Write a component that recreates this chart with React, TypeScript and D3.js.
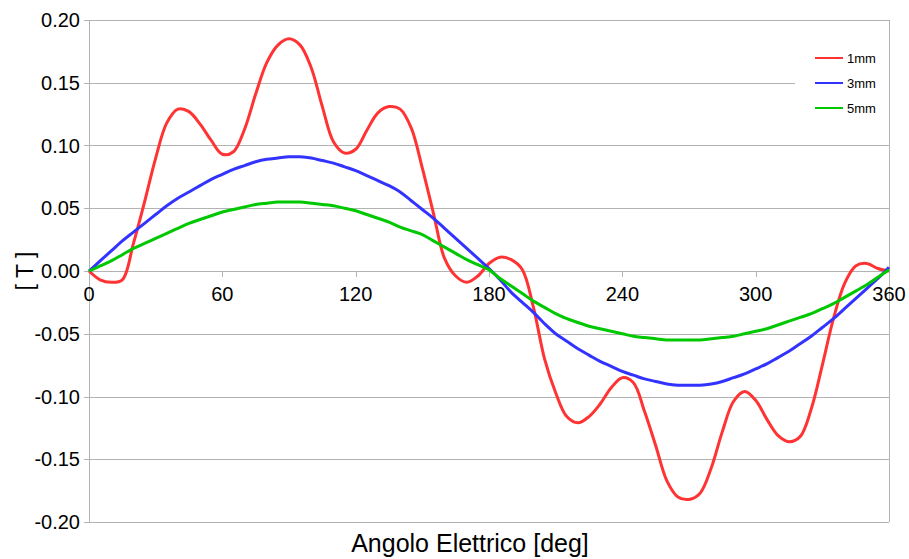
import React, { useEffect, useRef } from 'react';
import * as d3 from 'd3';

// electrical angle, degrees (5 deg step)
const angles = d3.range(0, 361, 5);

// flux density [T], one value per angle
const b1mm = [
  0.000, -0.007, -0.009, -0.007, 0.022, 0.055, 0.090, 0.118, 0.129, 0.127,
  0.117, 0.104, 0.093, 0.095, 0.113, 0.141, 0.166, 0.180, 0.185, 0.180,
  0.162, 0.131, 0.103, 0.094, 0.097, 0.112, 0.126, 0.131, 0.129, 0.114,
  0.082, 0.046, 0.010, -0.004, -0.009, -0.004, 0.006, 0.011, 0.009, 0.001,
  -0.029, -0.070, -0.097, -0.116, -0.121, -0.116, -0.106, -0.093, -0.085, -0.089,
  -0.112, -0.139, -0.167, -0.180, -0.182, -0.177, -0.157, -0.128, -0.104, -0.096,
  -0.103, -0.118, -0.131, -0.136, -0.132, -0.110, -0.075, -0.038, -0.010, 0.004,
  0.006, 0.002, 0.000,
];

const b3mm = [
  0.000, 0.008, 0.016, 0.024, 0.031, 0.038, 0.045, 0.052, 0.058, 0.063,
  0.068, 0.073, 0.077, 0.081, 0.084, 0.087, 0.089, 0.090, 0.091, 0.091,
  0.090, 0.088, 0.086, 0.083, 0.080, 0.076, 0.072, 0.068, 0.063, 0.056,
  0.049, 0.042, 0.034, 0.026, 0.018, 0.010, 0.002, -0.007, -0.017, -0.025,
  -0.033, -0.042, -0.050, -0.056, -0.062, -0.067, -0.072, -0.076, -0.080, -0.083,
  -0.086, -0.088, -0.090, -0.091, -0.091, -0.091, -0.090, -0.088, -0.085, -0.082,
  -0.078, -0.074, -0.069, -0.064, -0.058, -0.052, -0.045, -0.038, -0.030, -0.022,
  -0.014, -0.006, 0.003,
];

const b5mm = [
  0.000, 0.004, 0.008, 0.013, 0.018, 0.022, 0.026, 0.030, 0.034, 0.038,
  0.041, 0.044, 0.047, 0.049, 0.051, 0.053, 0.054, 0.055, 0.055, 0.055,
  0.054, 0.053, 0.052, 0.050, 0.048, 0.045, 0.042, 0.039, 0.035, 0.032,
  0.029, 0.024, 0.019, 0.014, 0.009, 0.005, 0.001, -0.006, -0.012, -0.018,
  -0.024, -0.029, -0.034, -0.038, -0.041, -0.044, -0.046, -0.048, -0.050, -0.052,
  -0.053, -0.054, -0.055, -0.055, -0.055, -0.055, -0.054, -0.053, -0.052, -0.050,
  -0.048, -0.046, -0.043, -0.040, -0.037, -0.034, -0.030, -0.026, -0.021, -0.016,
  -0.011, -0.005, 0.001,
];

const seriesNames = ['1mm', '3mm', '5mm'];
const seriesColors = ['#ff3333', '#3333ff', '#00c800'];
const seriesValues = [b1mm, b3mm, b5mm];

const xTicks = [0, 60, 120, 180, 240, 300, 360];
const yTicks = [-0.2, -0.15, -0.1, -0.05, 0, 0.05, 0.1, 0.15, 0.2];

const App = () => {
  const svgRef = useRef(null);
  const width = 909;
  const height = 559;

  useEffect(() => {
    const svg = d3.select(svgRef.current);
    svg.selectAll('*').remove();

    const margin = { top: 20, right: 20, bottom: 37, left: 89 };
    const font = '"Liberation Sans", Arial, sans-serif';

    const x = d3.scaleLinear()
      .domain([0, 360])
      .range([margin.left, width - margin.right]);

    const y = d3.scaleLinear()
      .domain([-0.2, 0.2])
      .range([height - margin.bottom, margin.top]);

    // plain hyphen for the minus sign, like the original
    const fmtY = d => d3.format('.2f')(d).replace('\u2212', '-');

    // horizontal grid lines
    svg.append('g')
      .selectAll('line')
      .data(yTicks)
      .enter()
      .append('line')
      .attr('x1', x(0) - 5)
      .attr('x2', x(360))
      .attr('y1', d => Math.round(y(d)) + 0.5)
      .attr('y2', d => Math.round(y(d)) + 0.5)
      .attr('stroke', '#b3b3b3')
      .attr('stroke-width', 1);

    // left axis and right border
    [0, 360].forEach(v => {
      svg.append('line')
        .attr('x1', Math.round(x(v)) + 0.5)
        .attr('x2', Math.round(x(v)) + 0.5)
        .attr('y1', y(0.2))
        .attr('y2', y(-0.2))
        .attr('stroke', '#b3b3b3');
    });

    // x ticks sit on the zero line
    svg.append('g')
      .selectAll('line')
      .data(xTicks)
      .enter()
      .append('line')
      .attr('x1', d => Math.round(x(d)) + 0.5)
      .attr('x2', d => Math.round(x(d)) + 0.5)
      .attr('y1', y(0))
      .attr('y2', y(0) + 6)
      .attr('stroke', '#b3b3b3');

    // y tick labels
    svg.append('g')
      .selectAll('text')
      .data(yTicks)
      .enter()
      .append('text')
      .attr('x', 80)
      .attr('y', d => y(d) + 7)
      .attr('text-anchor', 'end')
      .attr('font-family', font)
      .attr('font-size', '20px')
      .attr('fill', '#000')
      .text(fmtY);

    // x tick labels
    svg.append('g')
      .selectAll('text')
      .data(xTicks)
      .enter()
      .append('text')
      .attr('x', d => x(d))
      .attr('y', y(0) + 30)
      .attr('text-anchor', 'middle')
      .attr('font-family', font)
      .attr('font-size', '20px')
      .attr('fill', '#000')
      .text(d => d);

    // axis titles
    svg.append('text')
      .attr('x', 470)
      .attr('y', 552)
      .attr('text-anchor', 'middle')
      .attr('font-family', font)
      .attr('font-size', '25px')
      .text('Angolo Elettrico [deg]');

    svg.append('text')
      .attr('transform', `translate(33,${y(0)}) rotate(-90)`)
      .attr('text-anchor', 'middle')
      .attr('font-family', font)
      .attr('font-size', '23px')
      .text('[ T ]');

    // curves
    const line = d3.line()
      .x((d, i) => x(angles[i]))
      .y(d => y(d))
      .curve(d3.curveCatmullRom.alpha(0.5));

    seriesValues.forEach((vals, k) => {
      svg.append('path')
        .datum(vals)
        .attr('d', line)
        .attr('fill', 'none')
        .attr('stroke', seriesColors[k])
        .attr('stroke-width', 3)
        .attr('stroke-linejoin', 'round');
    });

    // legend on a white box, hides part of the grid
    svg.append('rect')
      .attr('x', 795)
      .attr('y', 42)
      .attr('width', x(360) - 795)
      .attr('height', 82)
      .attr('fill', '#fff');

    const legend = svg.append('g')
      .selectAll('g')
      .data(seriesNames)
      .enter()
      .append('g')
      .attr('transform', (d, i) => `translate(815,${58 + i * 25})`);

    legend.append('line')
      .attr('x1', 0)
      .attr('x2', 28)
      .attr('stroke', (d, i) => seriesColors[i])
      .attr('stroke-width', 2);

    legend.append('text')
      .attr('x', 32)
      .attr('y', 5)
      .attr('font-family', font)
      .attr('font-size', '13px')
      .text(d => d);
  }, []);

  return (
    <svg
      ref={svgRef}
      width={width}
      height={height}
      style={{ position: 'absolute', left: 0, top: 0, background: '#fff' }}
    ></svg>
  );
};

export default App;
